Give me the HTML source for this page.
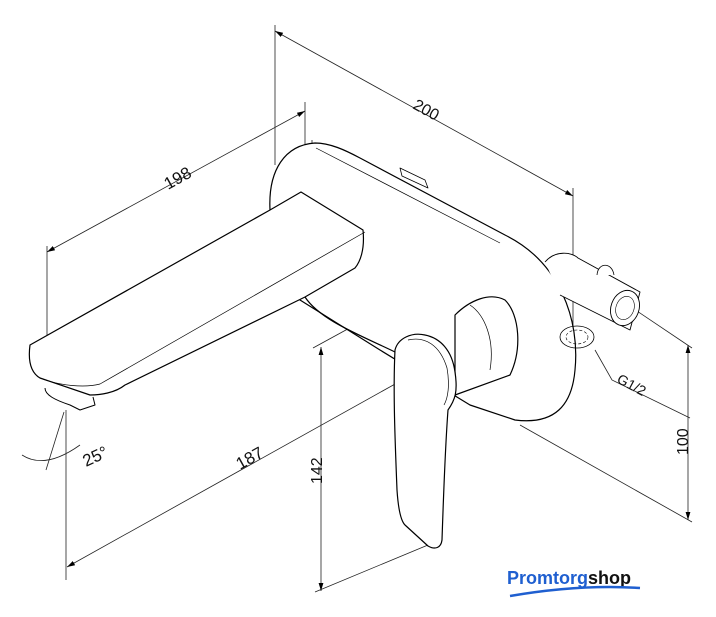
<!DOCTYPE html>
<html><head><meta charset="utf-8"><style>
html,body{margin:0;padding:0;background:#fff;}
svg{display:block;}
text{font-family:"Liberation Sans",sans-serif;fill:#111;}
</style></head><body>
<svg width="716" height="617" viewBox="0 0 716 617" xmlns="http://www.w3.org/2000/svg">
<defs>
<marker id="a" viewBox="0 0 10 6" refX="10" refY="3" markerWidth="10" markerHeight="6" orient="auto-start-reverse"><path d="M0,0L10,3L0,6z" fill="#000"/></marker>
</defs>
<g stroke="#222" stroke-width="0.8" fill="none">
<!-- 200 -->
<line x1="275" y1="25" x2="275" y2="165"/>
<line x1="573" y1="188" x2="573" y2="345"/>
<line x1="275" y1="31" x2="573" y2="196" marker-start="url(#a)" marker-end="url(#a)"/>
<!-- 198 -->
<line x1="305" y1="102" x2="305" y2="220"/>
<line x1="47" y1="246" x2="47" y2="378"/>
<line x1="47" y1="252" x2="305" y2="111" marker-start="url(#a)" marker-end="url(#a)"/>
<!-- 187 -->
<line x1="66" y1="410" x2="66" y2="580"/>
<line x1="425" y1="280" x2="425" y2="378" stroke-dasharray="5,3"/>
<line x1="67" y1="567" x2="422" y2="369" marker-start="url(#a)" marker-end="url(#a)"/>
<!-- 142 -->
<line x1="313" y1="348" x2="505" y2="243"/>
<line x1="315" y1="592" x2="440" y2="540"/>
<line x1="321" y1="347" x2="321" y2="591" marker-start="url(#a)" marker-end="url(#a)"/>
<!-- 100 -->
<line x1="573" y1="268" x2="692" y2="348"/>
<line x1="520" y1="425" x2="692" y2="522"/>
<line x1="688" y1="345" x2="688" y2="520" marker-start="url(#a)" marker-end="url(#a)"/>
<!-- G1/2 leader -->
<polyline points="595,350 612,380 690,418"/>
<!-- 25 deg -->
<line x1="64" y1="412" x2="46" y2="470"/>
<path d="M22,455 Q45,470 80,445" />
<!-- dashed hidden lines -->
<g stroke-dasharray="6,3">
<line x1="312" y1="140" x2="312" y2="222"/>
<line x1="330" y1="210" x2="385" y2="180"/>
<line x1="370" y1="250" x2="415" y2="225"/>
<line x1="415" y1="225" x2="510" y2="278"/>
<line x1="510" y1="278" x2="425" y2="325"/>
<line x1="545" y1="350" x2="510" y2="372"/>
</g>
</g>
<!-- body -->
<g stroke="#000" stroke-width="1.2" fill="#fff" stroke-linejoin="round">
<!-- backplate -->
<path d="M270,210 C268,170 285,145 315,143 C330,143 345,150 360,158 L505,235 C560,262 580,320 575,370 C572,405 555,425 515,420 L470,405 L380,350 L300,300 Z"/>
<path d="M316,148 L500,243" fill="none" stroke-width="0.7"/>
<path d="M400,168 L425,180 L428,188 L402,176 Z" stroke-width="0.8"/>
<!-- right connection -->
<path d="M545,262 C555,250 572,252 578,258 L640,292 L630,330 L560,295" stroke-width="0.9"/>
<ellipse cx="625" cy="308" rx="14" ry="18" transform="rotate(20 625 308)" stroke-width="0.9"/>
<ellipse cx="625" cy="308" rx="9" ry="12" transform="rotate(20 625 308)" stroke-width="0.6"/>
<path d="M597,275 C598,262 612,262 614,275" stroke-width="0.8"/>
<ellipse cx="577" cy="337" rx="17" ry="11" fill="none" stroke-width="0.8"/>
<ellipse cx="577" cy="337" rx="11" ry="7" fill="none" stroke-width="0.6" stroke-dasharray="3,2"/>
<!-- cartridge -->
<path d="M455,315 C470,300 490,292 505,300 C520,315 522,350 510,375 L455,395 Z"/>
<path d="M470,305 C485,315 495,340 490,370" fill="none" stroke-width="0.7"/>
<!-- spout -->
<path d="M30,345 L270,210 L301,192 L363,230 C365,250 360,262 355,268 L305,297 L125,385 C115,393 100,395 90,395 L40,378 C30,372 28,360 30,345 Z"/>
<path d="M40,378 C60,386 85,388 100,384 L365,232" fill="none" stroke-width="0.7"/>
<path d="M45,388 C45,395 55,400 70,405 L80,410 L95,405 L93,397" stroke-width="1"/>
<path d="M305,297 C320,320 360,335 395,352" fill="none"/>
<!-- handle -->
<path d="M395,350 C398,338 412,332 425,335 C440,338 452,350 455,372 C458,392 455,400 448,410 C445,450 443,510 442,540 C441,548 435,550 428,546 L405,525 C400,520 398,505 397,490 C395,440 393,390 395,350 Z"/>
<path d="M408,340 C425,336 440,345 447,368 C450,385 448,398 444,405" fill="none" stroke-width="0.7"/>
</g>
<!-- labels -->
<text x="0" y="0" font-size="16" transform="translate(412,108) rotate(29)">200</text>
<text x="0" y="0" font-size="17" transform="translate(168,190) rotate(-29)">198</text>
<text x="0" y="0" font-size="17" transform="translate(240,470) rotate(-29)">187</text>
<text x="0" y="0" font-size="16" transform="translate(322,484) rotate(-90)">142</text>
<text x="0" y="0" font-size="16" transform="translate(688,455) rotate(-90)">100</text>
<text x="0" y="0" font-size="14" transform="translate(616,382) rotate(28)">G1/2</text>
<text x="0" y="0" font-size="17" transform="translate(86,467) rotate(-25)">25°</text>
<!-- logo -->
<text x="507" y="584" font-size="18" font-weight="bold" style="fill:#1f5fd0">Promtorg<tspan style="fill:#111">shop</tspan></text>
<path d="M510,596 Q580,584 640,588" stroke="#1f5fd0" stroke-width="2.5" fill="none"/>
</svg>
</body></html>
